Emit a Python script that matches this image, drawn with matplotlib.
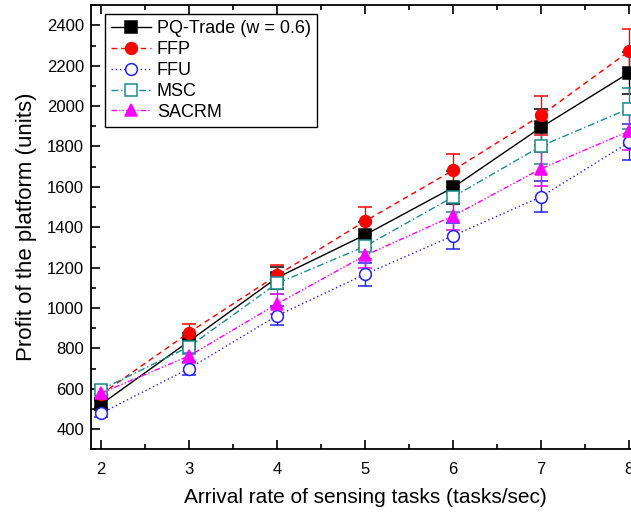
import matplotlib
matplotlib.use('Agg')
import matplotlib.pyplot as plt
from matplotlib.ticker import MultipleLocator

plt.rcParams['font.family'] = ['Liberation Sans', 'DejaVu Sans']

# arrival rate (tasks/sec)
rates = [2, 3, 4, 5, 6, 7, 8]

# platform profit per scheme
pq_trade = [522, 835, 1150, 1362, 1597, 1895, 2165]
ffp = [572, 878, 1162, 1430, 1682, 1955, 2272]
ffu = [478, 700, 962, 1167, 1358, 1551, 1821]
msc = [595, 808, 1122, 1305, 1550, 1802, 1988]
sacrm = [578, 762, 1020, 1260, 1456, 1690, 1876]

# error bar half-widths
pq_err = [20, 40, 55, 65, 80, 90, 105]
ffp_err = [25, 42, 50, 70, 82, 97, 110]
ffu_err = [18, 32, 48, 58, 65, 78, 90]
msc_err = [22, 38, 52, 62, 75, 88, 100]
sacrm_err = [22, 36, 50, 60, 72, 85, 95]

fig = plt.figure(figsize=(6.31, 5.17), dpi=100)
ax = fig.add_axes([0.144, 0.131, 0.869, 0.859])

series = [
    (pq_trade, pq_err, 'PQ-Trade (w = 0.6)', 'black', '-', 's', 'black'),
    (ffp, ffp_err, 'FFP', 'red', (0, (4, 3)), 'o', 'red'),
    (ffu, ffu_err, 'FFU', '#2222ee', (0, (1, 2)), 'o', 'white'),
    (msc, msc_err, 'MSC', '#1a8c8c', (0, (5, 2, 1, 2)), 's', 'white'),
    (sacrm, sacrm_err, 'SACRM', '#ff00ff', (0, (4, 1.5, 1, 1.5, 1, 1.5)), '^', '#ff00ff'),
]

handles, names = [], []
for vals, err, name, col, ls, mk, face in series:
    cont = ax.errorbar(rates, vals, yerr=err, color=col, linestyle=ls, linewidth=1.0,
                       marker=mk, markersize=8.5, markerfacecolor=face,
                       markeredgecolor=col, markeredgewidth=1.1, ecolor=col,
                       elinewidth=1.0, capsize=5, capthick=1.0)
    handles.append(cont.lines[0])
    names.append(name)

ax.set_xlim(1.886, 8.114)
ax.set_ylim(300, 2500)
ax.xaxis.set_major_locator(MultipleLocator(1))
ax.xaxis.set_minor_locator(MultipleLocator(0.5))
ax.yaxis.set_major_locator(MultipleLocator(200))
ax.yaxis.set_minor_locator(MultipleLocator(100))
ax.tick_params(axis='both', which='major', direction='out', length=6.5, width=1.2,
               labelsize=12, pad=5)
ax.tick_params(axis='x', which='major', pad=9)
ax.tick_params(axis='both', which='minor', direction='out', length=3.5, width=1.2)
ax.tick_params(top=True, which='both', direction='in')
ax.tick_params(right=False, which='both')
for sp in ax.spines.values():
    sp.set_linewidth(1.3)

ax.set_xlabel('Arrival rate of sensing tasks (tasks/sec)', fontsize=15, labelpad=8)
ax.set_ylabel('Profit of the platform (units)', fontsize=16, labelpad=7)

leg = ax.legend(handles, names, loc='upper left', bbox_to_anchor=(0.025, 0.981),
                fontsize=13, frameon=True, fancybox=False, edgecolor='black',
                framealpha=1, handlelength=2.2, handletextpad=0.35,
                labelspacing=0.22, borderpad=0.35, borderaxespad=0.0)
leg.get_frame().set_linewidth(1.0)

fig.savefig('out.png', dpi=100)
